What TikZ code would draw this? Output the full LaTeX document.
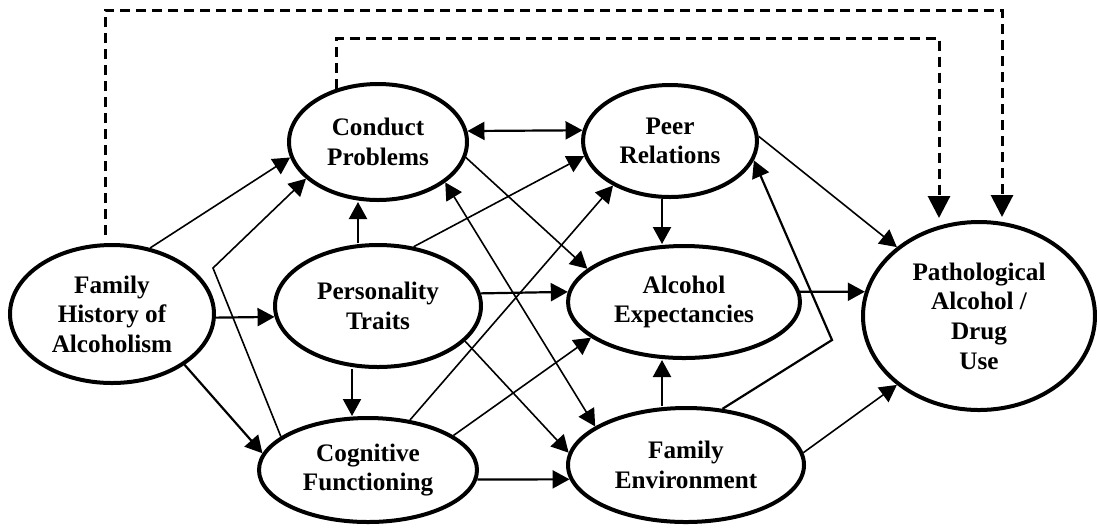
\documentclass[tikz,border=0pt]{standalone}
\usepackage{fontspec}
\setmainfont{Liberation Serif}
\usetikzlibrary{arrows.meta,shapes.geometric}
\begin{document}
\begin{tikzpicture}[x=0.5pt,y=-0.5pt,>={Triangle[length=8.5pt,width=9pt]},
  var/.style={draw,ellipse,line width=2pt,inner sep=0pt,align=center,font=\fontsize{12.6}{14.8}\selectfont\bfseries},
  lnk/.style={line width=0.8pt},
  lnkb/.style={line width=1.1pt},
  dsh/.style={line width=1.5pt,dash pattern=on 5pt off 3pt,-{Triangle[length=11pt,width=11pt]}}]
\useasboundingbox (0,0) rectangle (1097,527);
\node[var,minimum width=102pt,minimum height=69pt] (fh) at (112,314) {Family\\History of\\Alcoholism};
\node[var,minimum width=89pt,minimum height=58pt] (cp) at (378,142) {Conduct\\Problems};
\node[var,minimum width=103pt,minimum height=61pt] (pt) at (378,306) {Personality\\Traits};
\node[var,minimum width=109pt,minimum height=52pt] (cf) at (368,470) {Cognitive\\Functioning};
\node[var,minimum width=87pt,minimum height=56pt] (pr) at (670,141) {Peer\\Relations};
\node[var,minimum width=116pt,minimum height=56pt] (ae) at (684,302) {Alcohol\\Expectancies};
\node[var,minimum width=118pt,minimum height=57pt] (fe) at (686,465) {Family\\Environment};
\node[var,minimum width=116pt,minimum height=94pt] (pa) at (979,316) {Pathological\\Alcohol /\\Drug\\Use};
\coordinate (bendcf) at (213,268);
\coordinate (bendfe) at (832,340);
\coordinate (outer) at (1002,10);
\coordinate (inner) at (939,38);
\draw[dsh,shorten <=4pt,shorten >=1.5pt] ([xshift=-3.5pt]fh.north)|-(outer)--(outer|-pa.north);
\draw[dsh,shorten >=1pt] (cp.128)|-(inner)--(inner|-pa.north);
\draw[lnk,->] (fh.60)--(cp.190);
\draw[lnkb,->] (fh.-2)--(pt.186);
\draw[lnkb,->] (fh.-35)--(cf.171);
\draw[lnk,->] (cf.159)--(bendcf)--(cp.207);
\draw[lnkb,->] ([xshift=-10pt]pt.north)--([xshift=-10pt]pt.north|-cp.south);
\draw[lnkb,->] ([xshift=-13pt]pt.south)--([xshift=-13pt]pt.south|-cf.north);
\draw[lnkb,<->] (cp.7)--(pr.173);
\draw[lnk,->] (pt.59)--(pr.190);
\draw[lnk,->] (cp.-10)--(ae.161);
\draw[lnk,<->] (cp.-31)--(fe.157);
\draw[lnkb,->] (pt.7)--(ae.175);
\draw[lnk,->] (pt.-22)--(fe.174);
\draw[lnk,->] (cf.50)--(pr.218);
\draw[lnk,->] (cf.22)--(ae.201);
\draw[lnkb,->] (cf.-5)--(fe.187);
\draw[lnkb,->] ([xshift=-4pt]pr.south)--([xshift=-4pt]pr.south|-ae.north);
\draw[lnkb,->] ([xshift=-12pt]fe.north)--([xshift=-12pt]fe.north|-ae.south);
\draw[lnkb,->] (fe.57)--(bendfe)--(pr.-13);
\draw[lnk,->] (pr.3)--(pa.140);
\draw[lnkb,->] (ae.5)--(pa.168);
\draw[lnk,->] (fe.6)--(pa.220);
\end{tikzpicture}
\end{document}
